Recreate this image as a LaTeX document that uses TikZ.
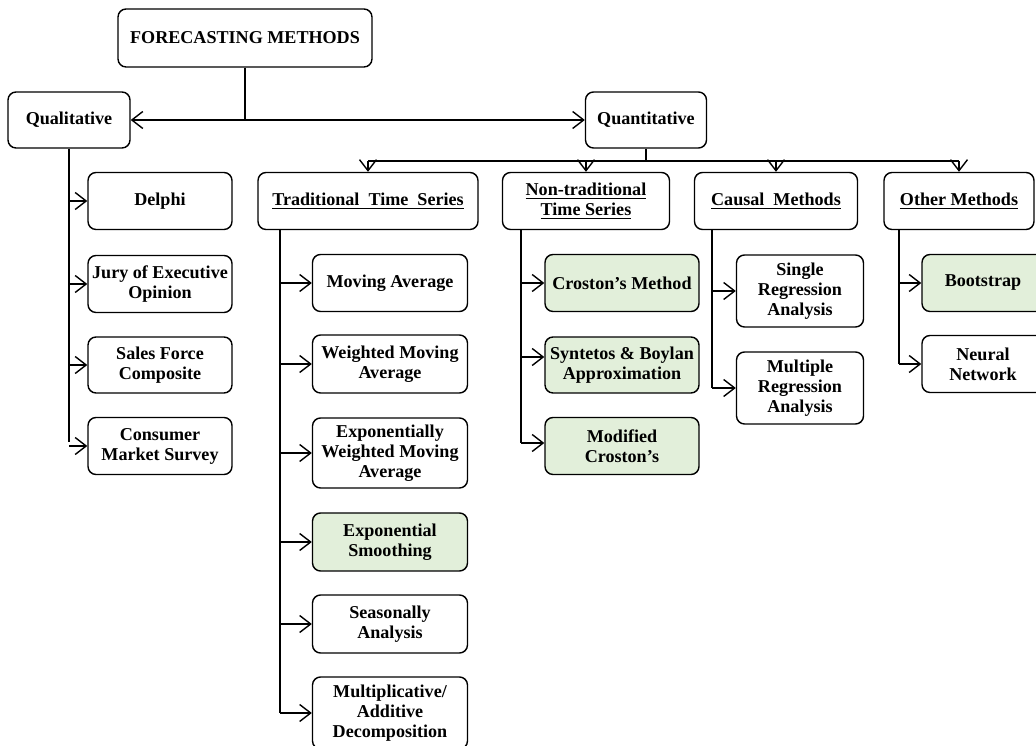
\documentclass[tikz,border=0pt]{standalone}
\usepackage{fontspec}
\setmainfont{Liberation Serif}
\usepackage{xcolor}
\usetikzlibrary{positioning, calc, arrows.meta}
\definecolor{lightgreen}{HTML}{E2EFDA}

\begin{document}
\begin{tikzpicture}[x=0.02cm, y=-0.02cm, line width=0.8pt,
    box/.style={draw, rounded corners=1.6mm, fill=white, align=center,
        inner sep=1pt, font=\fontsize{10.3}{11.4}\selectfont\bfseries},
    greenbox/.style={box, fill=lightgreen},
    sz/.style 2 args={minimum width={#1*0.2mm}, minimum height={#2*0.2mm}},
    arr/.style={-{Straight Barb[length=2.2mm, width=3.4mm]}}]

    % Page frame
    \clip (0,0) rectangle (1036,746);

    % Top levels
    \node[box, sz={254}{58}] (fm) at (245,38) {FORECASTING METHODS};
    \node[box, sz={122}{56}] (qual) at (69,120) {Qualitative};
    \node[box, sz={121}{56}] (quant) at (646,120) {Quantitative};

    \node[box, sz={220}{57}] (trad) at (368,201) {\underline{Traditional\ \ Time\ \ Series}};
    \node[box, sz={167}{57}] (nontrad) at (586,201) {\underline{Non-traditional}\\\underline{Time Series}};
    \node[box, sz={163}{57}] (causal) at (776,201) {\underline{Causal\ \ Methods}};
    \node[box, sz={150}{57}] (other) at (959,201) {\underline{Other Methods}};

    % Qualitative methods
    \node[box, sz={144}{57}] (delphi) at (160,201) {Delphi};
    \node[box, sz={144}{57}] (jury) at (160,284) {Jury of Executive\\Opinion};
    \node[box, sz={144}{56}] (sales) at (160,365) {Sales Force\\Composite};
    \node[box, sz={144}{57}] (consumer) at (160,446) {Consumer\\Market Survey};

    % Traditional time series
    \node[box, sz={155}{57}] (ma) at (390,283) {Moving Average};
    \node[box, sz={155}{58}] (wma) at (390,364) {Weighted Moving\\Average};
    \node[box, sz={155}{70}] (ewma) at (390,453) {Exponentially\\Weighted Moving\\Average};
    \node[greenbox, sz={155}{58}] (es) at (390,542) {Exponential\\Smoothing};
    \node[box, sz={155}{58}] (sa) at (390,624) {Seasonally\\Analysis};
    \node[box, sz={155}{72}] (mad) at (390,713) {Multiplicative/\\Additive\\Decomposition};

    % Non-traditional time series
    \node[greenbox, sz={154}{57}] (croston) at (622,283) {Croston’s Method};
    \node[greenbox, sz={154}{56}] (sba) at (622,365) {Syntetos \& Boylan\\Approximation};
    \node[greenbox, sz={154}{57}] (modcroston) at (622,446) {Modified\\Croston’s};

    % Causal methods
    \node[box, sz={127}{72}] (single) at (800,291) {Single\\Regression\\Analysis};
    \node[box, sz={127}{72}] (multiple) at (800,388) {Multiple\\Regression\\Analysis};

    % Other methods
    \node[greenbox, sz={122}{57}] (bootstrap) at (983,283) {Bootstrap};
    \node[box, sz={122}{57}] (neural) at (983,364) {Neural\\Network};

    % Trunk points
    \coordinate (bar) at (646,161);
    \coordinate (qualtrunk) at (69,442);
    \coordinate (tradtrunk) at (280,713);
    \coordinate (nontradtrunk) at (521,443);
    \coordinate (causaltrunk) at (712,388);
    \coordinate (othertrunk) at (899,364);

    % First split
    \draw (fm) -- (fm |- qual);
    \draw[arr] (fm |- qual) -- (qual);
    \draw[arr] (fm |- qual) -- (quant);

    % Quantitative bar
    \draw (quant) -- (bar);
    \draw (trad |- bar) -- (other |- bar);
    \foreach \n in {trad,nontrad,causal,other}
        \draw[arr] (\n |- bar) -- (\n);

    % Qualitative branch
    \draw (qual) -- (qualtrunk);
    \foreach \n in {delphi,jury,sales,consumer}
        \draw[arr] (qual |- \n) -- (\n);

    % Traditional branch
    \draw (tradtrunk |- trad.south) -- (tradtrunk);
    \foreach \n in {ma,wma,ewma,es,sa,mad}
        \draw[arr] (tradtrunk |- \n) -- (\n);

    % Non-traditional branch
    \draw (nontradtrunk |- nontrad.south) -- (nontradtrunk);
    \draw[arr] (nontradtrunk |- croston) -- (croston);
    \draw[arr] (nontradtrunk |- 0,357) -- (sba.west |- 0,357);
    \draw[arr] (nontradtrunk) -- (modcroston.west |- nontradtrunk);

    % Causal branch
    \draw (causaltrunk |- causal.south) -- (causaltrunk);
    \foreach \n in {single,multiple}
        \draw[arr] (causaltrunk |- \n) -- (\n);

    % Other branch
    \draw (othertrunk |- other.south) -- (othertrunk);
    \foreach \n in {bootstrap,neural}
        \draw[arr] (othertrunk |- \n) -- (\n);
\end{tikzpicture}
\end{document}
